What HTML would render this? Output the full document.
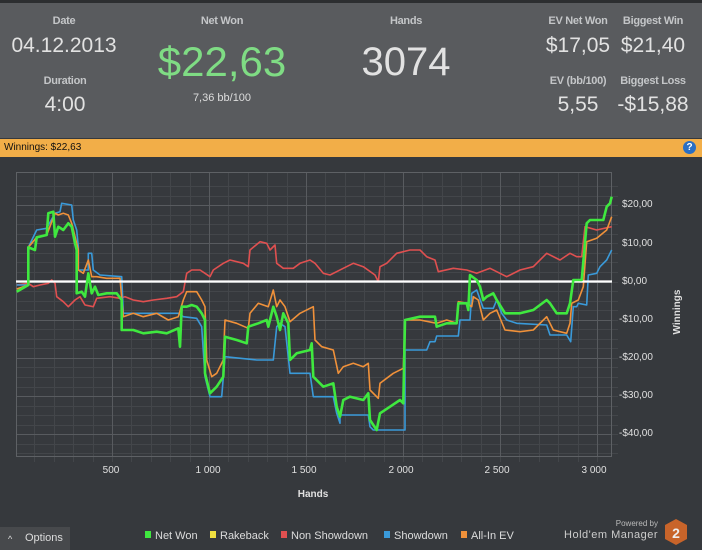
<!DOCTYPE html>
<html><head><meta charset="utf-8"><style>
body{margin:0;width:702px;height:550px;overflow:hidden;background:#36393d;font-family:"Liberation Sans",sans-serif}
.t{position:absolute;transform:translateX(-50%);white-space:nowrap}
.l{font-size:11px;font-weight:bold;color:#c4c6c8;letter-spacing:-0.3px}
.v{font-size:21px;color:#e2e2e2}
</style></head><body>
<div style="position:absolute;left:0;top:0;width:702px;height:3px;background:#2c2e30"></div>
<div style="position:absolute;left:0;top:3px;width:702px;height:135px;background:#595b5e"></div>
<div class="t l" style="left:64px;top:15px">Date</div>
<div class="t v" style="left:64px;top:34px">04.12.2013</div>
<div class="t l" style="left:65px;top:75px">Duration</div>
<div class="t v" style="left:65px;top:93px">4:00</div>
<div class="t l" style="left:222px;top:15px">Net Won</div>
<div class="t" style="left:222px;top:38px;font-size:42px;color:#7fdc84">$22,63</div>
<div class="t" style="left:222px;top:92px;font-size:11px;color:#ddd">7,36 bb/100</div>
<div class="t l" style="left:406px;top:15px">Hands</div>
<div class="t" style="left:406px;top:40px;font-size:40px;color:#e2e2e2">3074</div>
<div class="t l" style="left:578px;top:15px">EV Net Won</div>
<div class="t v" style="left:578px;top:34px">$17,05</div>
<div class="t l" style="left:653px;top:15px">Biggest Win</div>
<div class="t v" style="left:653px;top:34px">$21,40</div>
<div class="t l" style="left:578px;top:75px">EV (bb/100)</div>
<div class="t v" style="left:578px;top:93px">5,55</div>
<div class="t l" style="left:653px;top:75px">Biggest Loss</div>
<div class="t v" style="left:653px;top:93px">-$15,88</div>
<div style="position:absolute;left:0;top:139px;width:702px;height:18px;background:#f2ae48"></div>
<div style="position:absolute;left:4px;top:142px;font-size:10px;color:#111">Winnings: $22,63</div>
<div style="position:absolute;left:683px;top:141px;width:13px;height:13px;border-radius:50%;background:#2a6fc4;color:#fff;font-size:10px;font-weight:bold;text-align:center;line-height:13px">?</div>
<svg style="position:absolute;left:0;top:0" width="702" height="550">
<g stroke="#43464a" stroke-width="1" id="minor"></g>
<g stroke="#585b5f" stroke-width="1" id="major"></g>
<rect x="16.5" y="172.5" width="595" height="284" fill="none" stroke="#5e6165"/>
<g fill="none" stroke-width="1.6" stroke-linejoin="round">
<polyline stroke="#e05050" points="16.7,285 28.3,283.3 33.3,286.7 40,285 48.3,283.3 51.7,280 55,283.3 56.7,296.7 63.3,301.7 68.3,306.7 75,300 80,296.7 85,305 93.3,306.7 96.7,298.3 110,296.7 120,298.3 125,296.7 133.3,300 143.3,301.7 153.3,300 166.7,298.3 176.7,296.7 183.3,291.7 186.7,273.3 191.7,270 200,270 205,273.3 210,276.7 213.3,270 223.3,263.3 230,260 243.3,263.3 248.3,266.7 250,250 260,241.7 266.7,243.3 270,250 275,245 276.7,263.3 283.3,268.3 293.3,268.3 300,263.3 310,260 315,263.3 323.3,273.3 330,275 343.3,268.3 353.3,263.3 363.3,266.7 375,275 378.3,281.7 380,266.7 386.7,263.3 396.7,253.3 410,250 420,250 426.7,256.7 435,260 438.3,271.7 453.3,268.3 466.7,270 476.7,273.3 490,268.3 506.7,276.7 520,270 533.3,266.7 546.7,253.3 560,260 570,253.3 576.7,256.7 581.7,256.7 585,226.7 596.7,230 611.7,226.7"/>
<polyline stroke="#3a9ad9" points="16.7,285 28.3,285 28.3,247.3 36.7,230 46.7,228.3 55,213.3 60,211.7 61.7,203.3 71.7,205 73.3,220 76.7,230 78.3,246.7 78.3,270 88.3,270 88.3,253.3 91.7,253.3 93.3,270 100,275 121.7,276.7 123.3,313.3 166.7,313.3 178.3,313.3 183.3,316.7 196.7,318.3 201.7,326.7 205,376.7 210,396.7 221.7,396.7 225,356.7 256.7,360 273.3,360 276.7,326.7 280,323.3 285,326.7 290,373.3 310,373.3 313.3,396.7 333.3,396.7 336.7,413.3 340,423.3 340,415 368.3,415 370,426.7 373.3,430 405,430 405,350 426.7,350 430,341.7 435,341.7 436.7,336 458.3,336 460,320 470,320 471.7,293.3 476.7,290 483.3,308.3 493.3,308.3 496.7,300 501.7,313.3 506.7,320 516.7,323.3 546.7,325 550,335 566.7,335 570.7,341.7 573.3,306.7 576.7,306.7 578.3,303.3 586.7,305 588.3,275 596.7,273.3 600,266.7 606.7,260 610,253.3 611.7,250"/>
<polyline stroke="#f0913a" points="16.7,289 28.3,285 28.3,247.3 36.7,237.3 46.7,235 55,213.3 58.3,215 63.3,213.3 68.3,215 71.7,223.3 75,236.7 78.3,250 78.3,270 83.3,273.3 88.3,260 91.7,276.7 96.7,276.7 106.7,278.3 120,278.3 123.3,316.7 133.3,313.3 143.3,316.7 156.7,313.3 168.3,320 178.3,316.7 183.3,300 186.7,291.7 196.7,291.7 201.7,300 205,306.7 206.7,360 211.7,376.7 216.7,373.3 223.3,360 225,320 236.7,323.3 248.3,328.3 250,313.3 258.3,303.3 268.3,306.7 273.3,290 276.7,306.7 280,300 285,306.7 290,321.7 300,313.3 310,308.3 313.3,306.7 315,340 321.7,346.7 333.3,350 338.3,373.3 343.3,366.7 353.3,363.3 363.3,366.7 368.3,363.3 370,390 378.3,398.3 380,383.3 393.3,373.3 403.3,368.3 405,320 420,320 436.7,323.3 446.7,320 456.7,323.3 458.3,301.7 466.7,303.3 471.7,306.7 473.3,296.7 478.3,300 483.3,320 490,313.3 496.7,310 505,330 520,331.7 533.3,330 546.7,316.7 553.3,330 566.7,333.3 570,323.3 571.7,303.3 578.3,300 583.3,286.7 586.7,241.7 596.7,238.3 606.7,230 611.7,216.7"/>
<line x1="16" y1="281.5" x2="612" y2="281.5" stroke="#fff" stroke-width="2.2"/>
<polyline stroke="#3fe83f" stroke-width="2.6" points="16.7,291.7 28.3,285 28.3,247.3 35,250 36.7,237.3 46.7,235 48.3,213.3 53.3,211.7 55,236.7 58.3,226.7 63.3,230 68.3,223.3 71.7,226.7 75,243.3 76.7,250 76.7,293.3 81.7,291.7 85,296.7 88.3,273.3 91.7,293.3 95,286.7 98.3,295 106.7,293.3 116.7,293.3 121.7,300 121.7,330 133.3,330 143.3,333.3 156.7,331.7 166.7,333.3 178.3,328.3 180,346.7 181.7,306.7 186.7,306.7 191.7,305 196.7,306.7 201.7,313.3 205,320 205,373.3 210,393.3 216.7,386.7 223.3,376.7 225,336.7 236.7,340 246.7,343.3 248.3,326.7 258.3,323.3 266.7,320 268.3,326.7 273.3,306.7 276.7,316.7 280,330 283.3,313.3 288.3,323.3 290,360 296.7,353.3 310,350 311.7,343.3 313.3,376.7 323.3,386.7 333.3,383.3 336.7,406.7 340,416.7 343.3,400 350,396.7 363.3,400 368.3,393.3 370,420 376.7,430 380,413.3 390,406.7 400,400 403.3,403.3 405,320 420,316.7 435,316.7 436.7,326.7 446.7,323.3 456.7,323.3 458.3,303.3 466.7,303.3 468.3,310 470,275 476.7,280 480,286.7 483.3,300 486.7,296.7 493.3,293.3 496.7,300 505,313.3 520,313.3 533.3,310 546.7,300 550,303.3 556.7,313.3 566.7,313.3 570,303.3 573.3,280 581.7,280 586.7,223.3 590,220 603.3,220 606.7,206.7 610,203.3 611.7,196.7"/>
</g>
<g font-size="10" fill="#e0e0e0" font-family="Liberation Sans,sans-serif">
<text x="622" y="207">$20,00</text><text x="622" y="246">$10,00</text><text x="622" y="284">$0,00</text>
<text x="619" y="322">-$10,00</text><text x="619" y="360">-$20,00</text><text x="619" y="398">-$30,00</text><text x="619" y="436">-$40,00</text>
<g text-anchor="middle"><text x="111" y="473">500</text><text x="208" y="473">1 000</text><text x="304" y="473">1 500</text><text x="401" y="473">2 000</text><text x="497" y="473">2 500</text><text x="594" y="473">3 000</text></g>
<text x="313" y="497" text-anchor="middle" font-weight="bold">Hands</text>
<text transform="translate(680,312) rotate(-90)" text-anchor="middle" font-weight="bold">Winnings</text>
</g>
<g font-size="11" fill="#dcdcdc" font-family="Liberation Sans,sans-serif">
<rect x="145" y="531" width="6" height="7" fill="#3fe83f"/><text x="155" y="539">Net Won</text>
<rect x="210" y="531" width="6" height="7" fill="#f0e040"/><text x="220" y="539">Rakeback</text>
<rect x="281" y="531" width="6" height="7" fill="#e05050"/><text x="291" y="539">Non Showdown</text>
<rect x="384" y="531" width="6" height="7" fill="#3a9ad9"/><text x="394" y="539">Showdown</text>
<rect x="461" y="531" width="6" height="7" fill="#f0913a"/><text x="471" y="539">All-In EV</text>
<text x="658" y="526" font-size="8" text-anchor="end" fill="#bbb">Powered by</text>
<text x="658" y="538" text-anchor="end" fill="#ccc" letter-spacing="0.5">Hold'em Manager</text>
<polygon points="676,519 687,525 687,539 676,545 665,539 665,525" fill="#c8642a"/>
<text x="676" y="538" text-anchor="middle" font-weight="bold" font-size="14" fill="#eee">2</text>
</g>
<rect x="0" y="527" width="70" height="23" fill="#47494c"/>
<text x="8" y="542" font-size="9" fill="#ddd" font-family="Liberation Sans,sans-serif">^</text>
<text x="25" y="541" font-size="11" fill="#ddd" font-family="Liberation Sans,sans-serif">Options</text>
</svg>
<script>
var mi=document.getElementById('minor'),ma=document.getElementById('major'),s='',m='';
for(var h=100;h<=3000;h+=100){var x=Math.round(15+h*0.194)+.5;if(h%500==0)m+='<line x1="'+x+'" y1="172" x2="'+x+'" y2="456"/>';else s+='<line x1="'+x+'" y1="172" x2="'+x+'" y2="456"/>';s+='<line x1="'+x+'" y1="456" x2="'+x+'" y2="462"/>';}
for(var v=-45;v<=25;v+=2.5){var y=Math.round(281.5-v*3.82)+.5;if(y<172||y>456)continue;if(v%10==0)m+='<line x1="16" y1="'+y+'" x2="612" y2="'+y+'"/>';else s+='<line x1="16" y1="'+y+'" x2="612" y2="'+y+'"/>';s+='<line x1="612" y1="'+y+'" x2="618" y2="'+y+'"/>';}
mi.innerHTML=s;ma.innerHTML=m;
</script>
</body></html>
